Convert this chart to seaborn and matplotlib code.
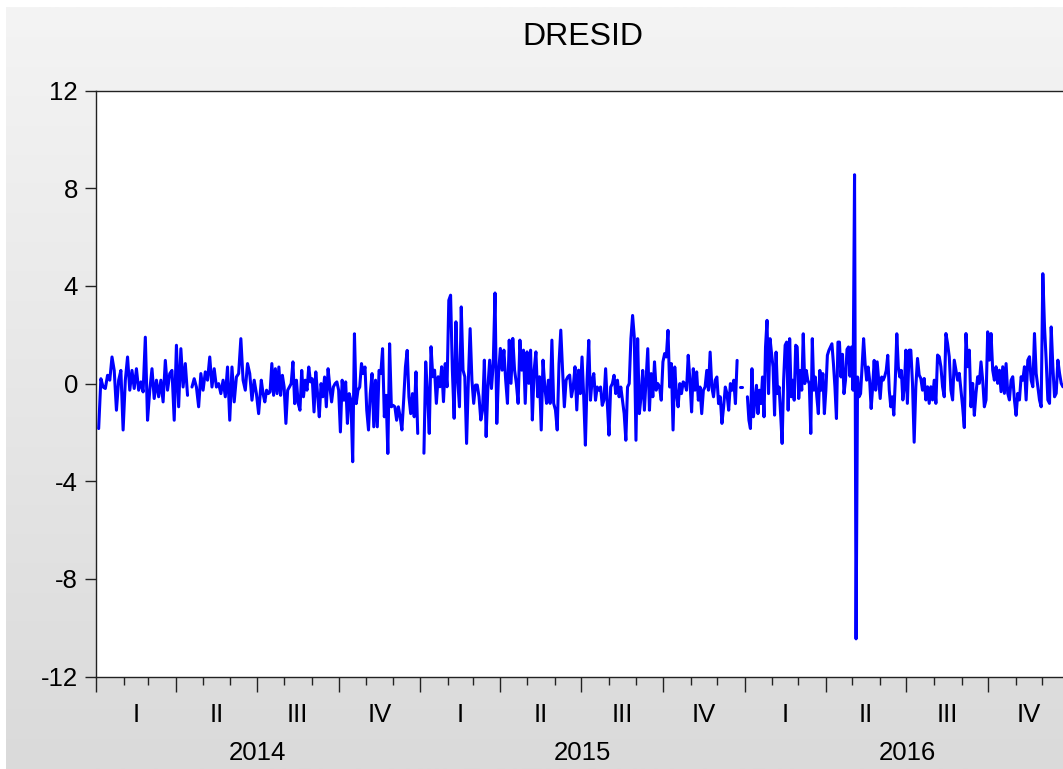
import numpy as np
import pandas as pd
import matplotlib
matplotlib.use("Agg")
import matplotlib.pyplot as plt
import matplotlib.dates as mdates
from matplotlib.colors import LinearSegmentedColormap
import seaborn as sns

nan = np.nan

# residual values, one list per half-year
h1_2014 = [-1.84, 0.2, -0.14, -0.2, 0.34, 0.14, 1.09, 0.54, -1.09, 0.14, 0.54, -1.9, 0.14, 1.09,
           -0.27, 0.54, -0.2, 0.61, -0.27, 0.07, -0.34, 1.9, -1.5, -0.27, 0.61, -0.61, 0.14, -0.54,
           0.14, -0.75, 0.95, -0.27, 0.41, 0.54, -1.5, 1.57, -0.95, 1.43, -0.14, 0.82, -0.48, nan,
           -0.14, 0.2, -0.14, -0.95, 0.41, -0.27, 0.48, 0.14, 1.09, -0.14, 0.61, -0.14, 0.0, -0.41,
           0.14, -0.54, 0.68, -1.5, 0.68, -0.75, 0.27, 0.41, 1.84, 0.14, -0.27, 0.82, 0.41, -0.68,
           0.14, -0.41, -1.23]
h2_2014 = [0.14, -0.41, -0.75, -0.27, -0.41, -0.34, 0.82, -0.48, 0.61, -0.41, 0.68, -0.48, 0.34,
           -0.14, -1.63, -0.27, -0.14, 0.0, 0.89, -0.82, 0.14, -0.82, -1.09, 0.54, -0.54, 0.14,
           -0.27, 0.68, 0.07, 0.2, -1.16, 0.48, -0.41, -1.36, 0.0, -0.54, 0.27, -0.95, 0.61, -0.14,
           -0.75, -0.14, 0.0, 0.07, -0.27, -1.98, 0.14, -0.68, 0.07, -1.63, -0.41, -0.68, -3.2,
           2.04, -0.82, -0.27, -0.14, 0.82, 0.41, 0.68, -1.09, -1.9, -0.41, 0.41, -1.77, 0.14,
           -1.77, 0.54, 0.41, 1.43, -1.36, -0.48, -2.86, 1.63, -0.95, -0.89, -0.95, -1.5, -0.95,
           -1.36, -1.9, -0.68, 0.68, 1.36, -0.54, -1.23, -0.41, -1.36, 0.48, -2.04, nan]
h1_2015 = [-2.85, 0.89, -0.4, -2.04, 1.51, 0.28, 0.55, -0.81, 0.28, -0.13, 0.69, -0.74, 0.82,
           -0.13, 3.41, 3.62, 0.55, -1.42, 2.53, 0.14, -0.95, 3.14, 0.55, 0.28, -2.45, 0.14, 2.25,
           0.14, -0.81, -0.06, -0.06, -0.54, -1.49, -1.08, 0.96, -2.17, -0.13, 0.96, -0.2, 0.82,
           3.71, -1.63, 0.42, 1.44, 0.55, 1.37, 0.14, -0.81, 1.78, 0.01, 1.85, 0.55, 0.01, -0.81,
           1.78, 0.55, 1.37, -0.81, 1.3, 0.01, 1.37, -1.49, 0.55, 1.3, -0.54, 0.28, -1.9, 0.96,
           -0.13, -0.81, 0.14, -0.81, 1.78, -0.81, -1.08, -1.9, 0.82, 2.19, 0.55, -0.95, 0.14,
           0.28, 0.35, -0.54, -0.13, 0.69, -1.08, 0.55]
h2_2015 = [-0.41, 1.09, -0.54, -2.52, 0.14, 1.77, -0.68, 0.14, 0.41, -0.68, -0.14, -0.27, -0.14,
           -0.89, -0.68, 0.61, -0.82, -2.11, -0.14, 0.0, 0.34, -0.41, 0.14, -0.54, -0.14, -0.68,
           -1.23, -2.32, -0.14, 0.0, 1.84, 2.79, 1.91, -2.32, 1.84, -1.23, -0.54, 0.54, -1.09,
           0.14, 1.43, -1.09, 0.41, -0.54, 0.89, -0.27, 0.0, -0.14, -0.68, 0.89, 1.23, 1.09, 2.18,
           -0.14, 0.82, -1.9, 0.68, -0.41, -0.95, 0.0, -0.41, 0.07, 0.0, -0.27, 1.16, 0.14, -1.16,
           0.61, -0.27, 0.48, -0.68, -0.14, -1.23, -0.27, -0.14, 0.54, -0.27, 1.29, -0.14, -0.54,
           0.14, 0.27, -0.82, -0.54, -1.63, -0.95, -0.14, -0.41, -1.09, 0.0, -0.27, 0.14, -0.82,
           0.95, nan, -0.14, -0.14, nan]
h1_2016 = [-0.54, -1.5, -1.84, 0.61, -1.36, -0.68, -0.07, -1.23, -0.27, -0.82, 0.27, -1.36, 1.5,
           2.59, -0.41, 1.84, 1.23, 0.68, -1.29, 1.29, -0.41, -0.14, -1.23, -2.45, 0.14, 1.57,
           1.7, -1.09, 1.84, -0.54, 0.14, -0.68, 1.57, 1.5, -0.61, 0.54, -0.27, 2.04, 0.0, 0.54,
           0.14, 0.0, -2.04, 1.84, -0.27, 0.27, -0.54, -1.23, 0.54, -0.27, 0.41, -1.23, -0.27,
           1.16, 1.36, 1.5, 1.63, 0.82, -0.14, -1.43, 1.7, 1.7, 0.27, 1.2, -0.41, 0.14, 1.4, 1.5,
           0.3, 1.5, -0.27, 8.55, -10.45, 0.27, -0.54, -0.41, 0.68, 1.84, 0.82, 0.14, 0.68, 0.14,
           -1.02, -0.14, 0.95, -0.27, 0.89, 0.14, -0.61, 0.27, 0.14, 0.3, 0.54, 1.16, -0.27,
           -0.95, -0.54, -1.29, 0.14, 2.04, 0.68, 0.27, 0.54, -0.67, -0.13, 1.37, -0.81]
h2_2016 = [1.37, 1.37, 0.01, -2.4, -0.13, 1.03, 0.35, 0.21, -0.27, 0.21, -0.67, -0.13, -0.81,
           -0.13, -0.67, 0.14, -0.81, 1.17, 1.1, 0.69, -0.13, -0.54, 2.05, 1.64, 1.1, -0.27,
           -0.67, 0.96, 0.55, 0.14, 0.42, -0.27, -0.95, -1.8, 2.05, 0.69, 1.37, -0.95, 0.01, -1.3,
           -0.4, 0.28, 0.01, 0.89, 0.14, -0.95, -0.67, 2.12, 0.96, 2.05, 0.55, 0.14, 0.69, 0.01,
           0.55, -0.33, 0.69, -0.4, 0.82, -0.4, -0.67, 0.14, 0.28, -0.67, -1.3, -0.4, -0.67, 0.28,
           0.14, 0.69, -0.67, 0.96, 1.1, 0.14, -0.13, 2.05, 0.42, -0.13, -0.67, -0.95, 4.5, 2.32,
           0.96, -0.67, -0.81, 2.32, 0.69, -0.54, -0.4, 0.96, 0.42, 0.01, -0.13]

half_years = [h1_2014, h2_2014, h1_2015, h2_2015, h1_2016, h2_2016]
half_starts = ["2014-01-04", "2014-07-06", "2015-01-05", "2015-06-30", "2016-01-04", "2016-07-04"]
half_ends = ["2014-07-03", "2014-12-31", "2015-06-28", "2015-12-31", "2016-07-02", "2016-12-24"]

quarter_labels = ["I", "II", "III", "IV"]
years = [2014, 2015, 2016]

# build one frame, spreading each half-year's values over its dates
frames = []
for vals, start, end in zip(half_years, half_starts, half_ends):
    dates = pd.date_range(start, end, periods=len(vals))
    frames.append(pd.DataFrame({"date": dates, "value": vals}))
df = pd.concat(frames, ignore_index=True)
# break the line at missing values
df["run"] = df["value"].isna().cumsum()
df = df.dropna()

sns.set_theme(style="white")
plt.rcParams["font.family"] = ["Liberation Sans", "DejaVu Sans"]
plt.rcParams["axes.unicode_minus"] = False

W, H = 1063, 769
fig = plt.figure(figsize=(W / 100, H / 100), dpi=100)
fig.patch.set_facecolor("white")

# grey gradient backdrop like the EViews frame
bg = fig.add_axes([6 / W, 0, 1 - 6 / W, 1 - 7 / H], zorder=-5)
grad = np.linspace(0, 1, 256).reshape(-1, 1)
cmap = LinearSegmentedColormap.from_list("frame", ["#f4f4f4", "#dadada"])
bg.imshow(grad, aspect="auto", cmap=cmap, extent=[0, 1, 0, 1])
bg.axis("off")

left, right, top, bottom = 96, 1070, 90.5, 676.7
ax = fig.add_axes([left / W, 1 - bottom / H, (right - left) / W, (bottom - top) / H])
ax.set_facecolor("white")

sns.lineplot(data=df, x="date", y="value", units="run", estimator=None,
             color="#0000ff", linewidth=2.2, ax=ax)

ax.set_xlim(pd.Timestamp("2014-01-01"), pd.Timestamp("2017-01-01"))
ax.set_ylim(-12, 12)
ax.set_yticks(range(-12, 13, 4))
ax.set_xlabel("")
ax.set_ylabel("")
ax.set_title("DRESID", fontsize=23, pad=33, color="black")

for side in ["left", "top", "bottom", "right"]:
    ax.spines[side].set_color("#222222")
    ax.spines[side].set_linewidth(1.0)

ax.xaxis.set_major_locator(mdates.MonthLocator(bymonth=[1, 4, 7, 10]))
ax.xaxis.set_minor_locator(mdates.MonthLocator())
ax.xaxis.set_major_formatter(plt.NullFormatter())
ax.tick_params(axis="x", which="major", length=11, width=1.0, color="#222222", direction="out", bottom=True)
ax.tick_params(axis="x", which="minor", length=6, width=1.0, color="#222222", direction="out", bottom=True)
ax.tick_params(axis="y", length=8, width=1.0, color="#222222", direction="out", left=True,
               labelsize=18.5, pad=5, labelcolor="black")

# quarter and year labels on secondary bottom axes
q_pos, q_txt = [], []
for y in years:
    for i, lab in enumerate(quarter_labels):
        s = pd.Timestamp(year=y, month=3 * i + 1, day=1)
        e = s + pd.offsets.QuarterBegin(startingMonth=1)
        q_pos.append(mdates.date2num(s + (e - s) / 2))
        q_txt.append(lab)
y_pos = [mdates.date2num(pd.Timestamp(year=y, month=7, day=2)) for y in years]

secq = ax.secondary_xaxis("bottom")
secq.set_xticks(q_pos)
secq.set_xticklabels(q_txt)
secq.tick_params(length=0, pad=19, labelsize=18.5, labelcolor="black")
secq.spines["bottom"].set_visible(False)

secy = ax.secondary_xaxis("bottom")
secy.set_xticks(y_pos)
secy.set_xticklabels([str(y) for y in years])
secy.tick_params(length=0, pad=46, labelsize=18.5, labelcolor="black")
secy.spines["bottom"].set_visible(False)

fig.savefig("out.png", dpi=100)
